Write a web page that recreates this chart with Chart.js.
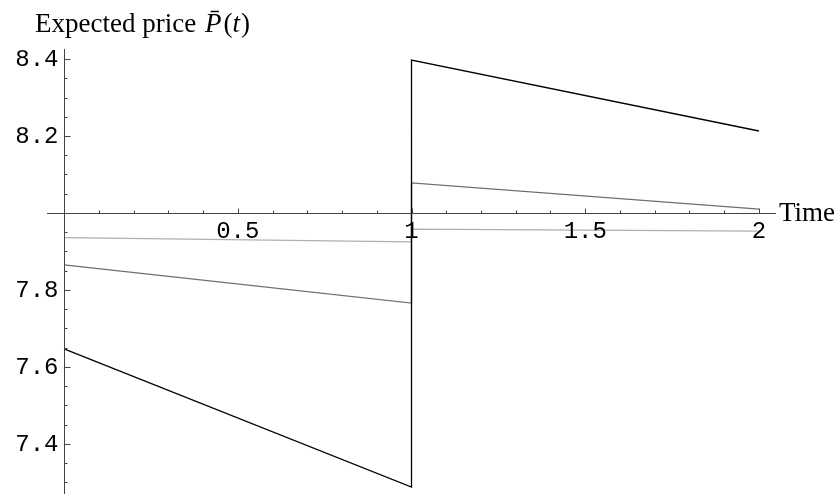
<!DOCTYPE html>
<html>
<head>
<meta charset="utf-8">
<script src="https://cdn.jsdelivr.net/npm/chart.js@4.4.1/dist/chart.umd.min.js"></script>
<style>
  html, body { margin: 0; padding: 0; background: #fff; }
  #wrap { position: relative; width: 840px; height: 494px; }
</style>
</head>
<body>
<div id="wrap"><canvas id="myChartPrecio" width="840" height="494"></canvas></div>
<script>
// datos (salto en t = 1)
var tiempos = [0, 1, 1, 2];
var precioNegro = [7.647, 7.288, 8.397, 8.213];
var precioGrisOscuro = [7.865, 7.766, 8.078, 8.010];
var precioGrisClaro = [7.936, 7.925, 7.958, 7.953];

var xTickLabels = ['0.5', '1', '1.5', '2'];
var xTickValues = [0.5, 1, 1.5, 2];
var yTickLabels = ['7.4', '7.6', '7.8', '8.2', '8.4'];
var yTickValues = [7.4, 7.6, 7.8, 8.2, 8.4];

function puntos(valores) {
    return tiempos.map(function (t, i) { return { x: t, y: valores[i] }; });
}

// ejes estilo Mathematica, cruzando en (0, 8)
var ejesPlugin = {
    id: 'ejes',
    afterDraw: function (chart) {
        var ctx = chart.ctx;
        var xs = chart.scales.x, ys = chart.scales.y;
        var area = chart.chartArea;
        var y0 = Math.round(ys.getPixelForValue(8)) + 0.5;
        var x0 = Math.round(xs.getPixelForValue(0)) + 0.5;
        ctx.save();
        ctx.strokeStyle = '#444';
        ctx.lineWidth = 1;
        ctx.beginPath();
        ctx.moveTo(area.left, y0); ctx.lineTo(area.right, y0);
        ctx.moveTo(x0, area.top); ctx.lineTo(x0, area.bottom);
        // ticks del eje x (cada 0.1, mayores cada 0.5)
        for (var i = 1; i <= 20; i++) {
            var px = Math.round(xs.getPixelForValue(i / 10)) + 0.5;
            var len = (i % 5 === 0) ? 5 : 3;
            ctx.moveTo(px, y0); ctx.lineTo(px, y0 - len);
        }
        // ticks del eje y (cada 0.05, mayores cada 0.2)
        for (var k = -14; k <= 8; k++) {
            if (k === 0) continue;
            var py = Math.round(ys.getPixelForValue(8 + k * 0.05)) + 0.5;
            var leny = (k % 4 === 0) ? 6 : 3;
            ctx.moveTo(x0, py); ctx.lineTo(x0 + leny, py);
        }
        ctx.stroke();

        ctx.fillStyle = '#000';
        ctx.font = '24px "Liberation Mono", monospace';
        ctx.textAlign = 'center';
        ctx.textBaseline = 'top';
        xTickLabels.forEach(function (lab, j) {
            ctx.fillText(lab, xs.getPixelForValue(xTickValues[j]), y0 + 6);
        });
        ctx.textAlign = 'right';
        ctx.textBaseline = 'middle';
        yTickLabels.forEach(function (lab, j) {
            ctx.fillText(lab, x0 - 6, ys.getPixelForValue(yTickValues[j]) + 1);
        });

        // etiquetas de los ejes
        var serif = '27px "Liberation Serif", serif';
        var serifIt = 'italic 27px "Liberation Serif", serif';
        ctx.font = serif;
        ctx.textAlign = 'left';
        ctx.textBaseline = 'middle';
        ctx.fillText('Time', area.right + 3, y0);
        ctx.textBaseline = 'alphabetic';
        var bx = 35, by = 32;
        var t1 = 'Expected price ';
        ctx.fillText(t1, bx, by);
        bx += ctx.measureText(t1).width + 2;
        ctx.font = serifIt;
        ctx.fillText('P\u0304', bx, by);
        bx += ctx.measureText('P').width + 2;
        ctx.font = serif;
        ctx.fillText('(', bx, by);
        bx += ctx.measureText('(').width;
        ctx.font = serifIt;
        ctx.fillText('t', bx, by);
        bx += ctx.measureText('t').width + 1;
        ctx.font = serif;
        ctx.fillText(')', bx, by);
        ctx.restore();
    }
};

var ctx = document.getElementById('myChartPrecio').getContext('2d');
var mychart = new Chart(ctx, {
    type: 'line',
    data: {
        datasets: [{
            label: 'Negro',
            data: puntos(precioNegro),
            borderColor: '#000000',
            borderWidth: 1.3,
            pointRadius: 0,
            fill: false
        }, {
            label: 'Gris oscuro',
            data: puntos(precioGrisOscuro),
            borderColor: '#6e6e6e',
            borderWidth: 1.3,
            pointRadius: 0,
            fill: false
        }, {
            label: 'Gris claro',
            data: puntos(precioGrisClaro),
            borderColor: '#b0b0b0',
            borderWidth: 1.3,
            pointRadius: 0,
            fill: false
        }]
    },
    options: {
        responsive: false,
        animation: false,
        layout: { padding: { left: 47, right: 64, top: 49, bottom: 0 } },
        plugins: { legend: { display: false }, tooltip: { enabled: false } },
        scales: {
            x: { type: 'linear', min: -0.049, max: 2.049, display: false },
            y: { type: 'linear', min: 7.27, max: 8.426, display: false }
        }
    },
    plugins: [ejesPlugin]
});
</script>
</body>
</html>
